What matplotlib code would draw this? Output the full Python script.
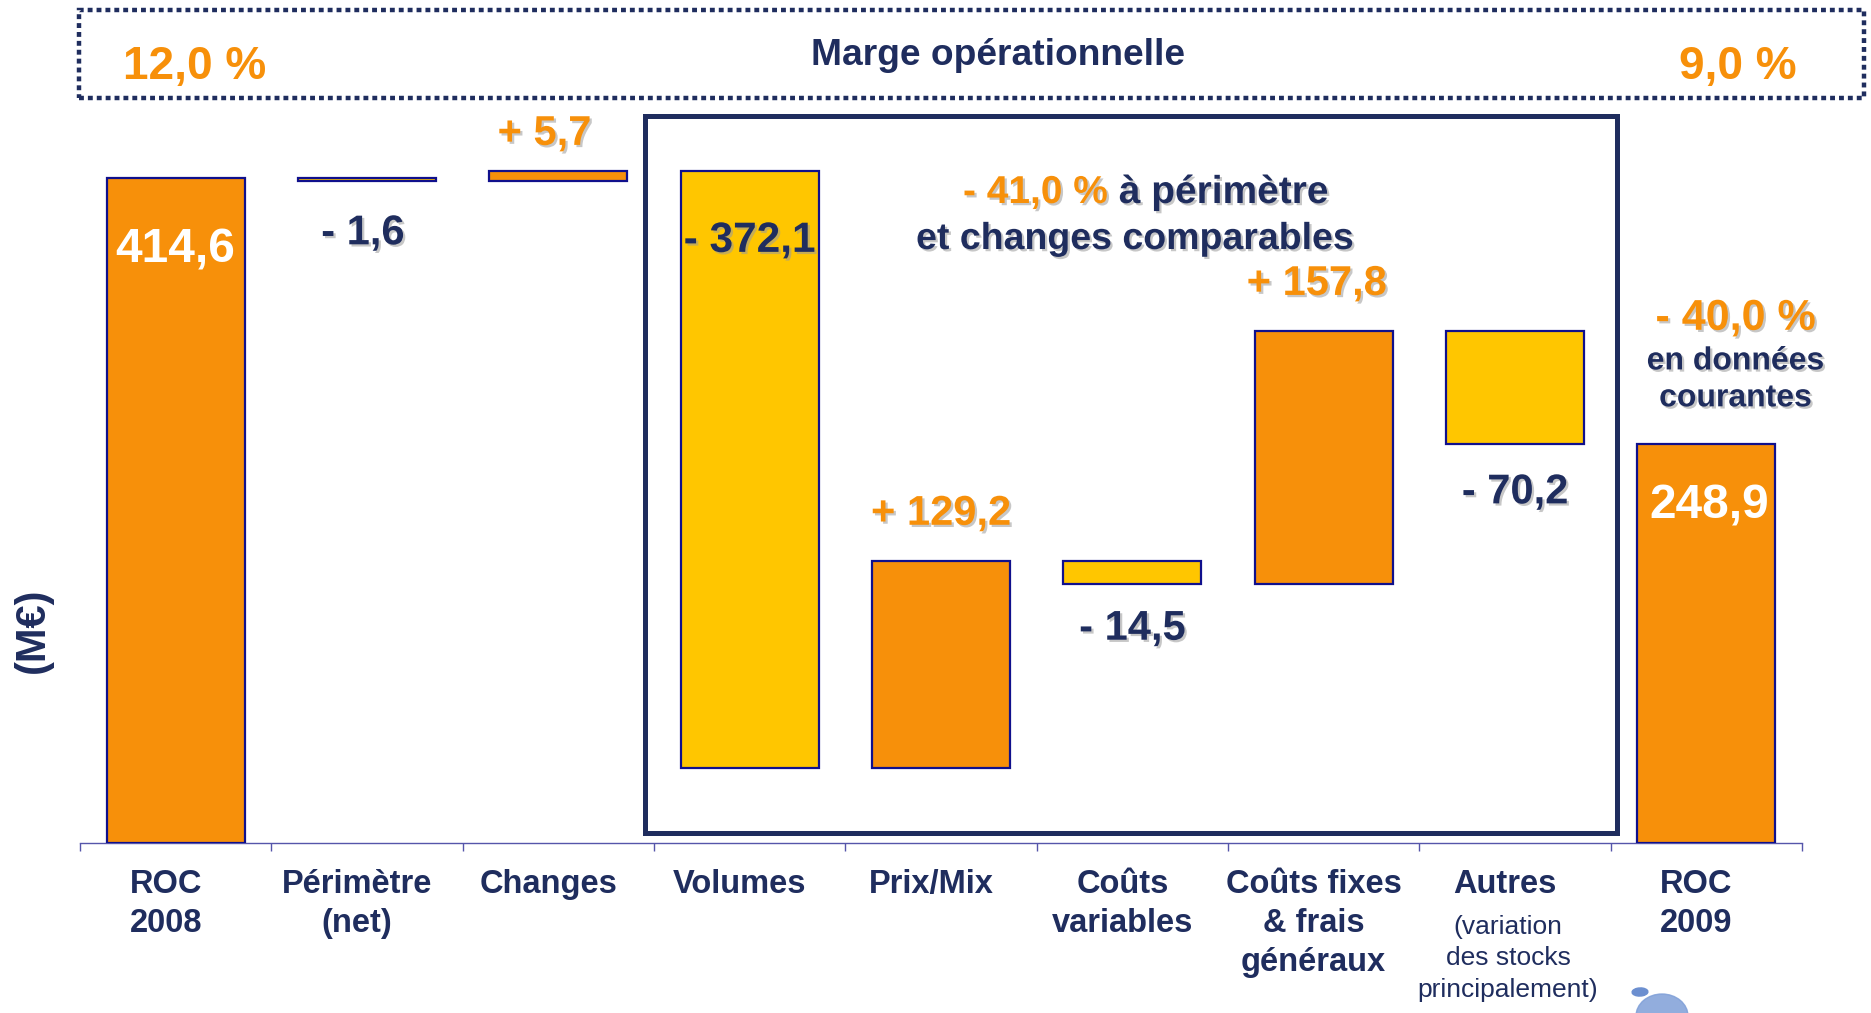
import matplotlib
matplotlib.use("Agg")
import matplotlib.pyplot as plt
import matplotlib.patheffects as pe
from matplotlib.patches import Rectangle, Ellipse
from matplotlib.transforms import ScaledTranslation
import numpy as np

plt.rcParams['font.family'] = ['Liberation Sans', 'DejaVu Sans']

# ---------------- data ----------------
categories = ['ROC\n2008', 'Périmètre\n(net)', 'Changes', 'Volumes', 'Prix/Mix',
              'Coûts\nvariables', 'Coûts fixes\n& frais\ngénéraux', 'Autres', 'ROC\n2009']
autres_note = '(variation\ndes stocks\nprincipalement)'
start_value = 414.6
changes = [-1.6, 5.7, -372.1, 129.2, -14.5, 157.8, -70.2]
end_value = 248.9
value_labels = ['414,6', '- 1,6', '+ 5,7', '- 372,1', '+ 129,2', '- 14,5',
                '+ 157,8', '- 70,2', '248,9']
margin_title = 'Marge opérationnelle'
margin_2008 = '12,0 %'
margin_2009 = '9,0 %'
lfl_pct = '- 41,0 %'
lfl_text = ' à périmètre'
lfl_text2 = 'et changes comparables'
cur_pct = '- 40,0 %'
cur_text = 'en données\ncourantes'
unit_label = '(M€)'

# ---------------- styles ----------------
ORANGE = '#F7900A'
YELLOW = '#FFC600'
NAVY = '#1F2D5E'
EDGE = '#10108C'
AXIS = '#5555AA'
W, H = 1871, 1013

# waterfall geometry from data
cum = start_value + np.cumsum(changes)
prev = np.concatenate([[start_value], cum[:-1]])
bottoms = [0.0] + list(np.minimum(prev, cum)) + [0.0]
heights = [start_value] + list(np.abs(changes)) + [end_value]
colors = [ORANGE] + [ORANGE if c > 0 else YELLOW for c in changes] + [ORANGE]
tops = np.array(bottoms) + np.array(heights)

fig = plt.figure(figsize=(W / 100, H / 100), dpi=100)
fig.patch.set_facecolor('white')
ax = fig.add_axes([80 / W, 170 / H, 1722 / W, 843 / H])
ax.set_xlim(-0.5, 8.5)
ax.set_ylim(0, 843 / 1.604)
ax.patch.set_alpha(0)

x = np.arange(len(categories))
ax.bar(x, heights, bottom=bottoms, width=0.72, color=colors,
       edgecolor=EDGE, linewidth=1.6, zorder=3)

for s in ['top', 'right', 'left']:
    ax.spines[s].set_visible(False)
ax.spines['bottom'].set_color(AXIS)
ax.spines['bottom'].set_linewidth(1.0)
ax.set_yticks([])
ax.set_xticks(x)
ax.set_xticklabels(categories, fontsize=23.5, fontweight='bold', color=NAVY,
                   linespacing=1.33)
ax.set_xticks(np.arange(-0.5, 9, 1), minor=True)
ax.tick_params(axis='x', which='major', length=0, pad=19)
ax.tick_params(axis='x', which='minor', length=6, width=1, color=AXIS,
               direction='out')
shift = ScaledTranslation(-10 / 100, 0, fig.dpi_scale_trans)
for lab in ax.get_xticklabels():
    lab.set_transform(lab.get_transform() + shift)

ax.annotate(autres_note, xy=(7, 0), xytext=(-5, -52), textcoords='offset points',
            ha='center', va='top', fontsize=19, color=NAVY, linespacing=1.38,
            annotation_clip=False)

# ---------------- value labels ----------------
shadow = [pe.withSimplePatchShadow(offset=(1.6, -1.6), shadow_rgbFace='#9a9a9a',
                                   alpha=0.55)]
# (reference: 'top' or 'bottom', dx pts, dy pts, color, size)
label_specs = [('top', 0, -52, 'white', 34.5),
               ('bottom', -3, -38, NAVY, 30),
               ('top', -10, 27, ORANGE, 30),
               ('top', 0, -50, NAVY, 30.5),
               ('top', 0, 34, ORANGE, 30),
               ('bottom', 0, -32, NAVY, 30),
               ('top', -5, 34, ORANGE, 30),
               ('bottom', 0, -35, NAVY, 30),
               ('top', 2, -45, 'white', 34.5)]
for i, (txt, (ref, dx, dy, col, fs)) in enumerate(zip(value_labels, label_specs)):
    yref = tops[i] if ref == 'top' else bottoms[i]
    ax.annotate(txt, xy=(i, yref), xytext=(dx, dy), textcoords='offset points',
                ha='center', va='center', fontsize=fs, fontweight='bold',
                color=col, zorder=5, annotation_clip=False,
                path_effects=None if col == 'white' else shadow)

# current-data annotation above ROC 2009
ax.annotate(cur_pct, xy=(8, tops[8]), xytext=(21, 90), textcoords='offset points',
            ha='center', va='center', fontsize=31, fontweight='bold', color=ORANGE,
            path_effects=shadow, annotation_clip=False)
ax.annotate(cur_text, xy=(8, tops[8]), xytext=(21, 46), textcoords='offset points',
            ha='center', va='center', fontsize=23, fontweight='bold', color=NAVY,
            linespacing=1.3, path_effects=shadow, annotation_clip=False)

# ---------------- decorations (figure pixel coords) ----------------
def fx(px):
    return px / W


def fy(py):
    return 1 - py / H


dotted = Rectangle((fx(79), fy(98)), (1864 - 79) / W, (98 - 10) / H,
                   transform=fig.transFigure, fill=False, edgecolor=NAVY,
                   linewidth=3.2, linestyle=(0, (1.1, 0.9)))
fig.add_artist(dotted)
solid = Rectangle((fx(645), fy(833)), (1617 - 645) / W, (833 - 116) / H,
                  transform=fig.transFigure, fill=False, edgecolor=NAVY,
                  linewidth=3.6)
fig.add_artist(solid)

fig.text(fx(998), fy(65), margin_title, ha='center', va='baseline', fontsize=26.7,
         fontweight='bold', color=NAVY)
fig.text(fx(195), fy(79), margin_2008, ha='center', va='baseline', fontsize=33,
         fontweight='bold', color=ORANGE)
fig.text(fx(1738), fy(79), margin_2009, ha='center', va='baseline', fontsize=33,
         fontweight='bold', color=ORANGE)

t1 = fig.text(fx(1108), fy(203), lfl_pct, ha='right', va='baseline', fontsize=28,
              fontweight='bold', color=ORANGE, path_effects=shadow)
ax.annotate(lfl_text, xy=(1, 0), xycoords=t1, ha='left', va='bottom',
            fontsize=28, fontweight='bold', color=NAVY, path_effects=shadow,
            annotation_clip=False)
fig.text(fx(1135), fy(249), lfl_text2, ha='center', va='baseline', fontsize=27,
         fontweight='bold', color=NAVY, path_effects=shadow)

fig.text(fx(33), fy(630), unit_label, ha='center', va='center', rotation=90,
         fontsize=30, fontweight='bold', color=NAVY)

# small cropped logo at bottom right
fig.add_artist(Ellipse((fx(1662), fy(1016)), 52 / W, 44 / H,
                       transform=fig.transFigure, color='#7f9fd8', alpha=0.85))
fig.add_artist(Ellipse((fx(1640), fy(992)), 16 / W, 8 / H, angle=25,
                       transform=fig.transFigure, color='#6c8fd0'))

fig.savefig('out.png', dpi=100, facecolor='white')
